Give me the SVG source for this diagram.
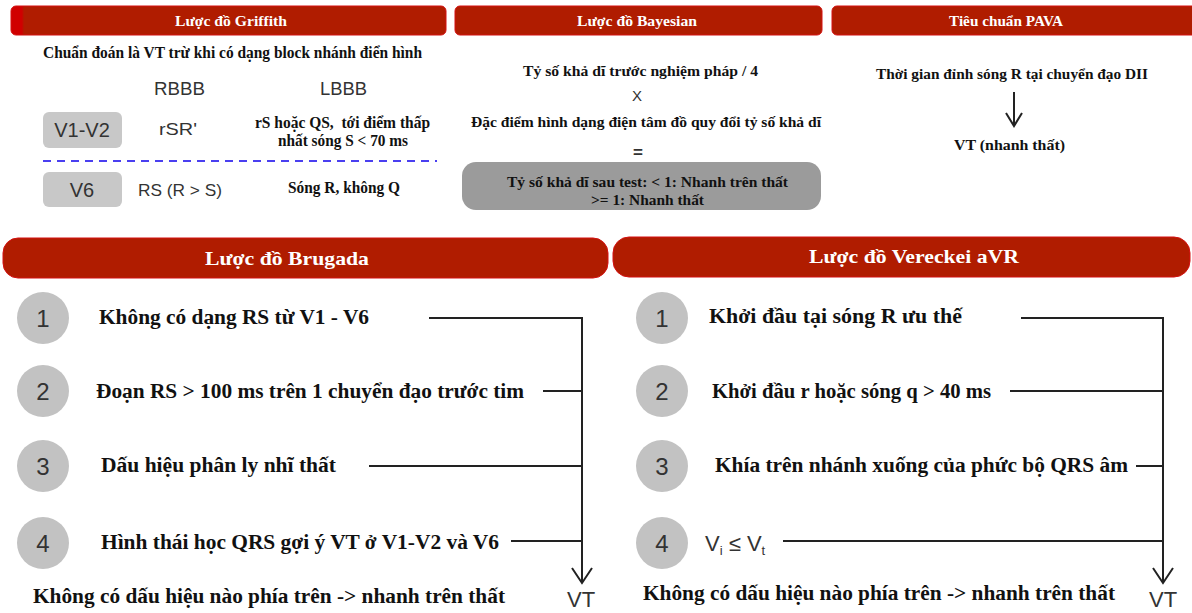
<svg xmlns="http://www.w3.org/2000/svg" width="1192" height="613" viewBox="0 0 1192 613">
<defs>
<linearGradient id="gl" x1="0" y1="0" x2="1" y2="0">
<stop offset="0" stop-color="#d00000"/><stop offset="0.025" stop-color="#d00000"/><stop offset="0.03" stop-color="#b01c00"/><stop offset="1" stop-color="#b01c00"/>
</linearGradient>
<style>
.bar{fill:#b01c00;stroke:#d41010;stroke-width:1}
.ht{font-family:"Liberation Serif",serif;font-weight:bold;fill:#ffffff}
.b{font-family:"Liberation Serif",serif;font-weight:bold;fill:#111111}
.s{font-family:"Liberation Sans",Arial,sans-serif;fill:#333333}
.box{fill:#c8c8c8}
.circ{fill:#c2c2c2}
.num{font-family:"Liberation Sans",Arial,sans-serif;font-size:24px;fill:#333333;text-anchor:middle}
.ln{stroke:#222222;stroke-width:2;fill:none}
</style>
</defs>
<rect width="1192" height="613" fill="#ffffff"/>

<g id="griffith">
<rect x="11" y="6" width="435" height="29" rx="5" fill="url(#gl)" stroke="#d41010" stroke-width="1"/>
<text class="ht" x="231" y="26" font-size="15" text-anchor="middle" textLength="112" lengthAdjust="spacingAndGlyphs">Lược đồ Griffith</text>
<text class="b" x="43" y="58" font-size="16" textLength="379" lengthAdjust="spacingAndGlyphs">Chuẩn đoán là VT trừ khi có dạng block nhánh điển hình</text>
<text class="s" x="154" y="95" font-size="18" textLength="51" lengthAdjust="spacingAndGlyphs">RBBB</text>
<text class="s" x="320" y="95" font-size="18" textLength="47" lengthAdjust="spacingAndGlyphs">LBBB</text>
<rect class="box" x="43" y="112" width="79" height="36" rx="6"/>
<text class="s" x="82" y="137" font-size="20" text-anchor="middle">V1-V2</text>
<text class="s" x="159" y="135" font-size="17" textLength="38" lengthAdjust="spacingAndGlyphs">rSR'</text>
<text class="b" x="255" y="128" font-size="16" style="white-space:pre" textLength="175" lengthAdjust="spacingAndGlyphs">rS hoặc QS,  tới điểm thấp</text>
<text class="b" x="278" y="146" font-size="16" textLength="130" lengthAdjust="spacingAndGlyphs">nhất sóng S &lt; 70 ms</text>
<line x1="43" y1="161" x2="437" y2="161" stroke="#4a3ff0" stroke-width="2" stroke-dasharray="8,6"/>
<rect class="box" x="43" y="172" width="79" height="35" rx="6"/>
<text class="s" x="82" y="197" font-size="20" text-anchor="middle">V6</text>
<text class="s" x="138" y="196" font-size="17" textLength="84" lengthAdjust="spacingAndGlyphs">RS (R &gt; S)</text>
<text class="b" x="288" y="193" font-size="16" textLength="112" lengthAdjust="spacingAndGlyphs">Sóng R, không Q</text>
</g>

<g id="bayesian">
<rect class="bar" x="455" y="6" width="367" height="29" rx="5"/>
<text class="ht" x="637" y="26" font-size="15" text-anchor="middle" textLength="120" lengthAdjust="spacingAndGlyphs">Lược đồ Bayesian</text>
<text class="b" x="523" y="76" font-size="15" textLength="235" lengthAdjust="spacingAndGlyphs">Tỷ số khả dĩ trước nghiệm pháp / 4</text>
<text class="s" x="637" y="101" font-size="15" text-anchor="middle" fill="#222">X</text>
<text class="b" x="471" y="127" font-size="15" textLength="350" lengthAdjust="spacingAndGlyphs">Đặc điểm hình dạng điện tâm đồ quy đổi tỷ số khả dĩ</text>
<text class="s" x="638" y="158" font-size="17" text-anchor="middle" font-weight="bold" fill="#222">=</text>
<rect x="462" y="162" width="359" height="48" rx="14" fill="#9b9b9b"/>
<text class="b" x="507" y="187" font-size="15" textLength="281" lengthAdjust="spacingAndGlyphs">Tỷ số khả dĩ sau test: &lt; 1: Nhanh trên thất</text>
<text class="b" x="591" y="205" font-size="15" textLength="113" lengthAdjust="spacingAndGlyphs">&gt;= 1: Nhanh thất</text>
</g>

<g id="pava">
<rect class="bar" x="832" y="6" width="365" height="29" rx="5"/>
<text class="ht" x="1006" y="26" font-size="15" text-anchor="middle" textLength="114" lengthAdjust="spacingAndGlyphs">Tiêu chuẩn PAVA</text>
<text class="b" x="876" y="79" font-size="15" textLength="272" lengthAdjust="spacingAndGlyphs">Thời gian đỉnh sóng R tại chuyển đạo DII</text>
<text class="b" x="954" y="150" font-size="15" textLength="111" lengthAdjust="spacingAndGlyphs">VT (nhanh thất)</text>
</g>

<g id="brugada">
<rect class="bar" x="3" y="238" width="605" height="40" rx="15"/>
<text class="ht" x="287" y="265" font-size="19" text-anchor="middle" textLength="164" lengthAdjust="spacingAndGlyphs">Lược đồ Brugada</text>
<circle class="circ" cx="43" cy="318" r="26"/>
<text class="num" x="43" y="327">1</text>
<text class="b" x="99" y="324" font-size="20" textLength="270" lengthAdjust="spacingAndGlyphs">Không có dạng RS từ V1 - V6</text>
<circle class="circ" cx="43" cy="391" r="26"/>
<text class="num" x="43" y="400">2</text>
<text class="b" x="96" y="398" font-size="20" textLength="428" lengthAdjust="spacingAndGlyphs">Đoạn RS &gt; 100 ms trên 1 chuyển đạo trước tim</text>
<circle class="circ" cx="43" cy="466" r="26"/>
<text class="num" x="43" y="475">3</text>
<text class="b" x="101" y="472" font-size="20" textLength="235" lengthAdjust="spacingAndGlyphs">Dấu hiệu phân ly nhĩ thất</text>
<circle class="circ" cx="43" cy="543" r="26"/>
<text class="num" x="43" y="552">4</text>
<text class="b" x="101" y="549" font-size="20" textLength="398" lengthAdjust="spacingAndGlyphs">Hình thái học QRS gợi ý VT ở V1-V2 và V6</text>
<text class="b" x="33" y="603" font-size="20" textLength="472" lengthAdjust="spacingAndGlyphs">Không có dấu hiệu nào phía trên -&gt; nhanh trên thất</text>
<text class="s" x="567" y="607" font-size="22" fill="#333">VT</text>
</g>

<g id="vereckei">
<rect class="bar" x="613" y="237" width="577" height="40" rx="16"/>
<text class="ht" x="914" y="263" font-size="19" text-anchor="middle" textLength="210" lengthAdjust="spacingAndGlyphs">Lược đồ Vereckei aVR</text>
<circle class="circ" cx="662" cy="318" r="26"/>
<text class="num" x="662" y="327">1</text>
<text class="b" x="709" y="323" font-size="20" textLength="253" lengthAdjust="spacingAndGlyphs">Khởi đầu tại sóng R ưu thế</text>
<circle class="circ" cx="662" cy="391" r="26"/>
<text class="num" x="662" y="400">2</text>
<text class="b" x="712" y="398" font-size="20" textLength="279" lengthAdjust="spacingAndGlyphs">Khởi đầu r hoặc sóng q &gt; 40 ms</text>
<circle class="circ" cx="662" cy="466" r="26"/>
<text class="num" x="662" y="475">3</text>
<text class="b" x="715" y="472" font-size="20" textLength="413" lengthAdjust="spacingAndGlyphs">Khía trên nhánh xuống của phức bộ QRS âm</text>
<circle class="circ" cx="662" cy="543" r="26"/>
<text class="num" x="662" y="552">4</text>
<text class="s" x="705" y="551" font-size="22" fill="#444">V<tspan font-size="13" dy="4">i</tspan><tspan dy="-4"> ≤ V</tspan><tspan font-size="13" dy="4">t</tspan></text>
<text class="b" x="643" y="600" font-size="20" textLength="472" lengthAdjust="spacingAndGlyphs">Không có dấu hiệu nào phía trên -&gt; nhanh trên thất</text>
<text class="s" x="1149" y="607" font-size="22" fill="#333">VT</text>
</g>

<g id="connectors">
<path class="ln" d="M1014,92 V126 M1006,113 L1014,126 L1022,113"/>
<path class="ln" d="M429,318 H582 V583 M543,391 H582 M369,466 H582 M511,541 H582 M572,568 L582,583 L592,568"/>
<path class="ln" d="M1021,318 H1163 V583 M1010,391 H1163 M1136,466 H1163 M783,541 H1163 M1153,568 L1163,583 L1173,568"/>
</g>
</svg>
